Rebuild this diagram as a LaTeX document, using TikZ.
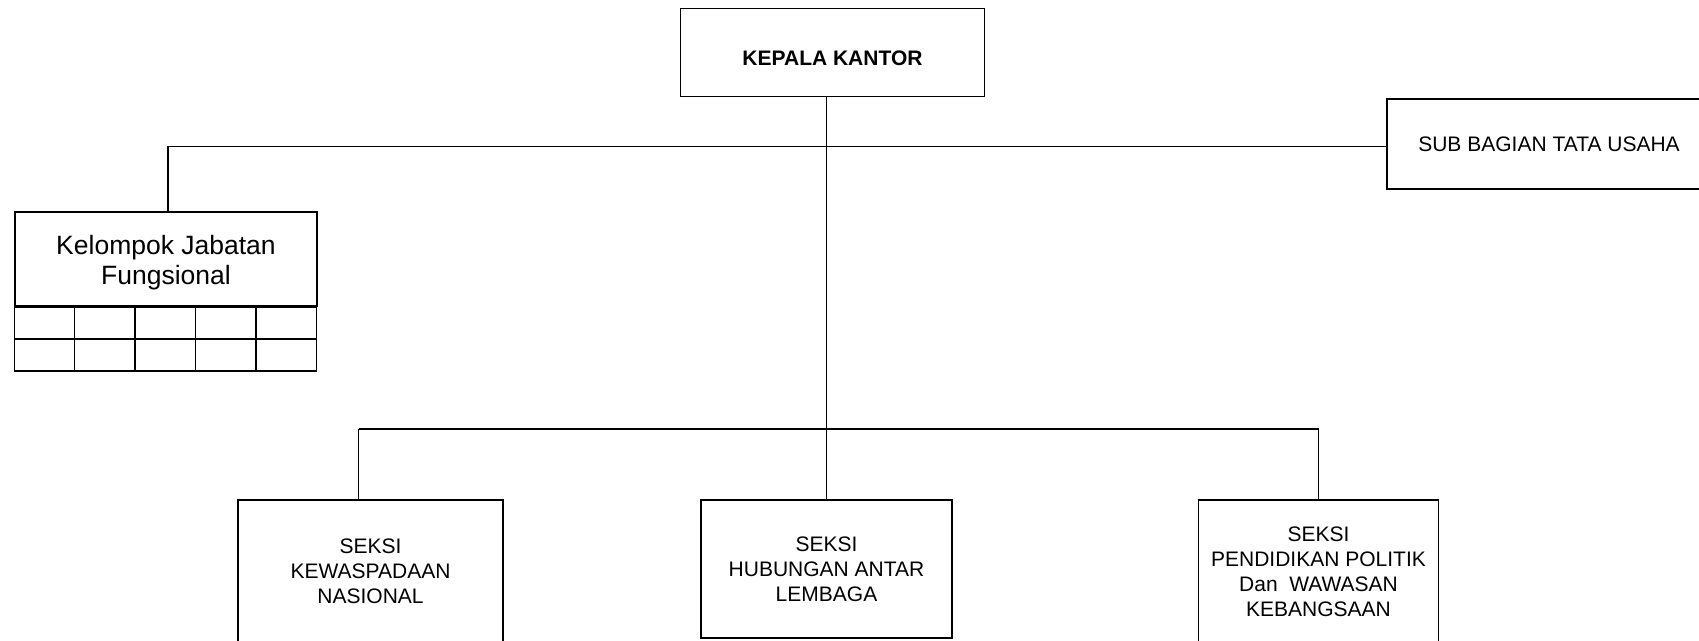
\documentclass[tikz,border=0pt]{standalone}
\usepackage{fontspec}
\setmainfont{Liberation Sans}
\usetikzlibrary{positioning}
\newcommand{\turun}[2]{\raisebox{-#1}[\height][\depth]{#2}}
\tikzset{
  kotak/.style={draw, line width=1.5pt, align=center, inner sep=0pt,
    font=\fontsize{21}{25}\selectfont},
  garis/.style={line width=1.5pt},
  garistebal/.style={line width=2.5pt},
}
\begin{document}
\begin{tikzpicture}[x=1pt,y=-1pt]
      \useasboundingbox (0,0) rectangle (1699,640);
      \draw
        (832.5,52.5) node[kotak, minimum width=304, minimum height=88] (kepala){\turun{6pt}{\textbf{KEPALA KANTOR}}}
        (1549,144) node[kotak, minimum width=324, minimum height=90] (subbag){SUB BAGIAN TATA USAHA}
        (166,259) node[kotak, minimum width=302, minimum height=94,
          font=\fontsize{26.5}{30}\selectfont] (kelompok){\turun{4pt}{\begin{tabular}{@{}c@{}}Kelompok Jabatan\\Fungsional\end{tabular}}}
        (370.5,571) node[kotak, minimum width=265, minimum height=142] (seksi1){SEKSI\\KEWASPADAAN\\NASIONAL}
        (826.5,569) node[kotak, minimum width=251, minimum height=138] (seksi2){SEKSI\\HUBUNGAN ANTAR\\LEMBAGA}
        (1318.5,572) node[kotak, minimum width=240, minimum height=144] (seksi3){SEKSI\\PENDIDIKAN POLITIK\\Dan\ \ WAWASAN\\KEBANGSAAN};
      \coordinate (cabang) at (826.5,429);
      % grid under the functional group
      \draw[garis] (kelompok.south west) rectangle ++(302,64);
      \draw[garis] ([yshift=-32pt]kelompok.south west) -- ++(302,0);
      \foreach \i in {1,...,4}
        \draw[garis] ([xshift=\i*60.4pt]kelompok.south west) -- ++(0,64);
      \begin{scope}[garis]
        \draw (kepala.south -| seksi2.north) -- (seksi2.north);
        \draw ([xshift=2pt]kelompok.north) |- ([yshift=-2.5pt]subbag.west);
        \draw ([xshift=-12pt]seksi1.north) -- ([xshift=-12pt]seksi1.north |- cabang);
        \draw (seksi3.north) -- (seksi3.north |- cabang);
      \end{scope}
      \draw[garistebal] ([xshift=-12pt]seksi1.north |- cabang) -- (seksi3.north |- cabang);
    \end{tikzpicture}
\end{document}
